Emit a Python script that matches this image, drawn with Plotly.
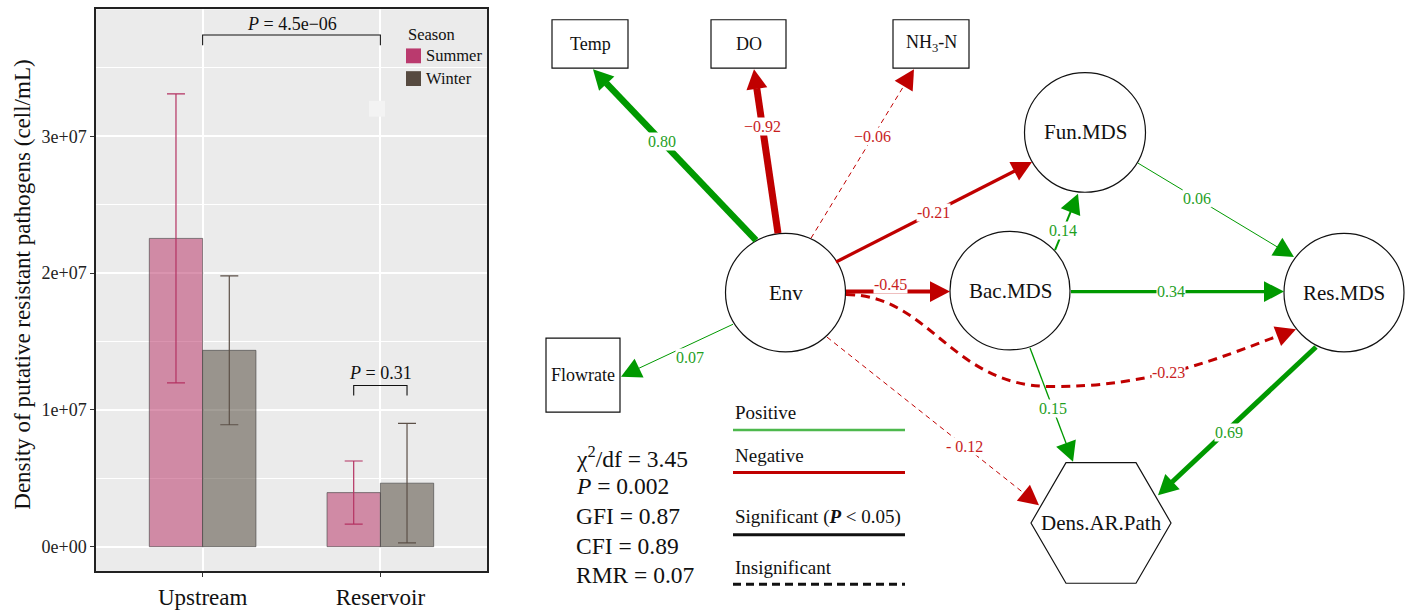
import math
import plotly.graph_objects as go

W, H = 1416, 610
SERIF = "Liberation Serif, Times New Roman, serif"

# ---------------- bar chart values ----------------
sites = ["Upstream", "Reservoir"]
summer_mean = [2.253e7, 0.395e7]
summer_sd = [1.056e7, 0.231e7]
winter_mean = [1.435e7, 0.464e7]
winter_sd = [0.544e7, 0.437e7]
p_values = ["4.5e\u221206", "0.31"]
y_tick_vals = [0, 1e7, 2e7, 3e7]
y_tick_text = ["0e+00", "1e+07", "2e+07", "3e+07"]

# ---------------- path model values ----------------
edge_from = ["Env", "Env", "Env", "Env", "Env", "Env", "Env", "Env",
             "Bac.MDS", "Bac.MDS", "Bac.MDS", "Fun.MDS", "Res.MDS"]
edge_to = ["Temp", "DO", "NH3-N", "Flowrate", "Fun.MDS", "Bac.MDS", "Res.MDS",
           "Dens.AR.Path", "Fun.MDS", "Res.MDS", "Dens.AR.Path", "Res.MDS",
           "Dens.AR.Path"]
edge_coef = [0.80, -0.92, -0.06, 0.07, -0.21, -0.45, -0.23, -0.12,
             0.14, 0.34, 0.15, 0.06, 0.69]
edge_significant = [True, True, False, True, True, True, False, False,
                    True, True, True, True, True]
fit_names = ["\u03c7<sup>2</sup>/df", "<i>P</i>", "GFI", "CFI", "RMR"]
fit_values = ["3.45", "0.002", "0.87", "0.89", "0.07"]

# ---------------- diagram layout (pixel space of the right panel) ----------------
nodes = {
    "Env": dict(kind="circle", c=(785.5, 296), r=60, label="Env"),
    "Bac.MDS": dict(kind="circle", c=(1010, 294), r=60, label="Bac.MDS"),
    "Fun.MDS": dict(kind="circle", c=(1085, 134), r=60.5, label="Fun.MDS"),
    "Res.MDS": dict(kind="circle", c=(1344, 296), r=60, label="Res.MDS"),
    "Temp": dict(kind="box", c=(590, 44.5), w=76, h=49, label="Temp"),
    "DO": dict(kind="box", c=(748.5, 44.5), w=75, h=49, label="DO"),
    "NH3-N": dict(kind="box", c=(931, 44.5), w=76, h=49, label="NH<sub>3</sub>-N"),
    "Flowrate": dict(kind="box", c=(583, 379.5), w=74, h=75, label="Flowrate"),
    "Dens.AR.Path": dict(kind="hex", c=(1101, 529), rx=70, ry=61, label="Dens.AR.Path"),
}

# per-edge ports (offsets from node centres), pen width, label placement
edge_style = [
    dict(s=(-29.5, -53), e=(3, 25.5), w=6.5, t=0.577, minus=""),
    dict(s=(-7.5, -60), e=(5.5, 25.5), w=7, t=0.65, minus="\u2212"),
    dict(s=(25.5, -55), e=(-17, 25.5), w=1, t=0.60, minus="\u2212"),
    dict(s=(-52.5, 32), e=(38, 1.5), w=1, t=0.38, shift=(0, 14), minus=""),
    dict(s=(50.5, -31), e=(-53, 30), w=3.2, t=0.495, minus="-"),
    dict(s=(60.5, -1), e=(-60, 1), w=4, t=0.43, shift=(0, -7), minus="-"),
    dict(s=(60.5, 2), e=(-48, 37), w=3, minus="-",
         via=[(930, 298), (950, 390), (1050, 391), (1150, 392), (1220, 362)]),
    dict(s=(41.5, 45), e=(-62, -18), w=1, t=0.65, minus="- "),
    dict(s=(45, -41), e=(-7, 62), w=2, t=0.35, minus=""),
    dict(s=(61, 1), e=(-60, -1), w=3.2, t=0.47, minus=""),
    dict(s=(20, 58), e=(-28, -62), w=1.3, t=0.53, minus=""),
    dict(s=(53, 31), e=(-50, -36), w=1, t=0.38, minus=""),
    dict(s=(-28, 55), e=(57, -28), w=5, t=0.55, shift=(0, 4), minus=""),
]

POS_LINE, NEG_LINE = "#009900", "#C00000"
POS_TEXT, NEG_TEXT = "#1FA01F", "#C81E1E"

fig = go.Figure()

# ---------------- left panel: bars with error bars ----------------
x_pos = [1, 2]
fig.add_trace(go.Bar(
    x=x_pos, y=summer_mean, width=0.3, offset=-0.3,
    marker=dict(color="rgba(181,41,95,0.5)", line=dict(color="rgba(70,70,70,0.8)", width=0.8)),
    xaxis="x", yaxis="y", showlegend=False, hoverinfo="skip"))
fig.add_trace(go.Bar(
    x=x_pos, y=winter_mean, width=0.3, offset=0.0,
    marker=dict(color="rgba(71,61,47,0.5)", line=dict(color="rgba(70,70,70,0.8)", width=0.8)),
    xaxis="x", yaxis="y", showlegend=False, hoverinfo="skip"))
fig.add_trace(go.Scatter(
    x=[p - 0.15 for p in x_pos], y=summer_mean, mode="markers",
    marker=dict(size=1, color="rgba(0,0,0,0)"),
    error_y=dict(type="data", array=summer_sd, color="#B43262", thickness=1.2, width=9),
    xaxis="x", yaxis="y", showlegend=False, hoverinfo="skip"))
fig.add_trace(go.Scatter(
    x=[p + 0.15 for p in x_pos], y=winter_mean, mode="markers",
    marker=dict(size=1, color="rgba(0,0,0,0)"),
    error_y=dict(type="data", array=winter_sd, color="#5C5048", thickness=1.2, width=9),
    xaxis="x", yaxis="y", showlegend=False, hoverinfo="skip"))

shapes = []
annotations = []

# panel background
shapes.append(dict(type="rect", xref="x domain", yref="y domain", x0=0, x1=1, y0=0, y1=1,
                   fillcolor="#EBEBEB", line=dict(width=0), layer="below"))

# significance brackets
brackets = [
    dict(x0=1.0, x1=2.0, y=3.74e7, drop=0.075e7, ty=3.822e7, p=p_values[0]),
    dict(x0=1.85, x1=2.15, y=1.178e7, drop=0.073e7, ty=1.267e7, p=p_values[1]),
]
for b in brackets:
    shapes.append(dict(type="path", xref="x", yref="y",
                       path=f"M {b['x0']},{b['y'] - b['drop']} L {b['x0']},{b['y']} "
                            f"L {b['x1']},{b['y']} L {b['x1']},{b['y'] - b['drop']}",
                       line=dict(color="#111", width=1.1)))
    annotations.append(dict(xref="x", yref="y", x=(b["x0"] + b["x1"]) / 2, y=b["ty"],
                            xanchor="center", yanchor="middle",
                            text=f"<i>P</i> = {b['p']}", showarrow=False,
                            font=dict(family=SERIF, size=18, color="#111")))


def px(x):
    return x / W


def py(y):
    return 1 - y / H


# legend of the bar panel
annotations.append(dict(xref="paper", yref="paper", x=px(406), y=py(35),
                        xanchor="left", yanchor="middle",
                        text="Season", showarrow=False,
                        font=dict(family=SERIF, size=16.5, color="#111")))
for name, col, y0 in [("Summer", "#BA3A6E", 49), ("Winter", "#564A40", 72)]:
    shapes.append(dict(type="rect", xref="paper", yref="paper", x0=px(406), x1=px(421),
                       y0=py(y0 + 15), y1=py(y0), fillcolor=col, line=dict(width=0)))
    annotations.append(dict(xref="paper", yref="paper", x=px(424), y=py(y0 + 7.5),
                            xanchor="left", yanchor="middle",
                            text=name, showarrow=False,
                            font=dict(family=SERIF, size=16.5, color="#111")))
# faint key patch inside the panel
shapes.append(dict(type="rect", xref="paper", yref="paper", x0=px(369), x1=px(385),
                   y0=py(118), y1=py(102), fillcolor="#F3F3F3", line=dict(width=0)))

# y-axis title
annotations.append(dict(xref="paper", yref="paper", x=px(23), y=py(288),
                        xanchor="center", yanchor="middle",
                        text="Density of putative resistant pathogens (cell/mL)",
                        textangle=-90, showarrow=False,
                        font=dict(family=SERIF, size=23, color="#111")))

# ---------------- right panel: path diagram ----------------
R = dict(xref="x2", yref="y2")

for key, n in nodes.items():
    cx, cy = n["c"]
    if n["kind"] == "circle":
        shapes.append(dict(type="circle", **R, x0=cx - n["r"], x1=cx + n["r"],
                           y0=cy - n["r"], y1=cy + n["r"],
                           line=dict(color="#111", width=1.2), fillcolor="white"))
        fs = 21
    elif n["kind"] == "box":
        shapes.append(dict(type="rect", **R, x0=cx - n["w"] / 2, x1=cx + n["w"] / 2,
                           y0=cy - n["h"] / 2, y1=cy + n["h"] / 2,
                           line=dict(color="#111", width=1.2), fillcolor="white"))
        fs = 18
    else:
        rx, ry = n["rx"], n["ry"]
        pts = [(cx - rx, cy), (cx - rx / 2, cy - ry), (cx + rx / 2, cy - ry),
               (cx + rx, cy), (cx + rx / 2, cy + ry), (cx - rx / 2, cy + ry)]
        path = "M " + " L ".join(f"{x},{y}" for x, y in pts) + " Z"
        shapes.append(dict(type="path", **R, path=path,
                           line=dict(color="#111", width=1.2), fillcolor="white"))
        fs = 21
    annotations.append(dict(**R, x=cx, y=cy, text=n["label"], showarrow=False,
                            font=dict(family=SERIF, size=fs, color="#111")))

HEAD_L, HEAD_HW = 20.0, 10.5


def arrow_head(tip, u, color):
    bx, by = tip[0] - HEAD_L * u[0], tip[1] - HEAD_L * u[1]
    nx, ny = -u[1], u[0]
    p1 = (bx + HEAD_HW * nx, by + HEAD_HW * ny)
    p2 = (bx - HEAD_HW * nx, by - HEAD_HW * ny)
    shapes.append(dict(type="path", **R,
                       path=f"M {tip[0]},{tip[1]} L {p1[0]},{p1[1]} L {p2[0]},{p2[1]} Z",
                       fillcolor=color, line=dict(width=0)))
    return bx, by


for src, dst, coef, sig, st in zip(edge_from, edge_to, edge_coef, edge_significant, edge_style):
    sc, dc = nodes[src]["c"], nodes[dst]["c"]
    S = (sc[0] + st["s"][0], sc[1] + st["s"][1])
    T = (dc[0] + st["e"][0], dc[1] + st["e"][1])
    lcol = POS_LINE if coef > 0 else NEG_LINE
    tcol = POS_TEXT if coef > 0 else NEG_TEXT
    wd = st["w"]
    if sig:
        dash = "solid"
    else:
        dash = "5px,4px" if wd < 2 else "9px,6px"
    label = (st["minus"] if coef < 0 else "") + f"{abs(coef):.2f}"

    if "via" in st:
        v = st["via"]
        last = v[-1]
        dx, dy = T[0] - last[0], T[1] - last[1]
        d = math.hypot(dx, dy)
        u = (dx / d, dy / d)
        bx, by = arrow_head(T, u, lcol)
        path = (f"M {S[0]},{S[1]} C {v[0][0]},{v[0][1]} {v[1][0]},{v[1][1]} {v[2][0]},{v[2][1]} "
                f"C {v[3][0]},{v[3][1]} {v[4][0]},{v[4][1]} {bx},{by}")
        shapes.append(dict(type="path", **R, path=path, line=dict(color=lcol, width=wd, dash=dash)))
        # label sits on the second bezier segment
        t = 0.45
        P = [v[2], v[3], v[4], (bx, by)]
        cf = [(1 - t) ** 3, 3 * (1 - t) ** 2 * t, 3 * (1 - t) * t ** 2, t ** 3]
        lx = sum(c * p[0] for c, p in zip(cf, P))
        ly = sum(c * p[1] for c, p in zip(cf, P))
    else:
        dx, dy = T[0] - S[0], T[1] - S[1]
        d = math.hypot(dx, dy)
        u = (dx / d, dy / d)
        bx, by = arrow_head(T, u, lcol)
        shapes.append(dict(type="line", **R, x0=S[0], y0=S[1], x1=bx + 0.5 * u[0], y1=by + 0.5 * u[1],
                           line=dict(color=lcol, width=wd, dash=dash)))
        sh = st.get("shift", (0, 0))
        lx = S[0] + st["t"] * dx + sh[0]
        ly = S[1] + st["t"] * dy + sh[1]
    annotations.append(dict(**R, x=lx, y=ly, text=label, showarrow=False,
                            bgcolor="white", borderpad=0,
                            font=dict(family=SERIF, size=16, color=tcol)))

# model fit statistics
for i, (nm, val) in enumerate(zip(fit_names, fit_values)):
    annotations.append(dict(**R, x=574, y=462 + 30 * i, xanchor="left", yanchor="middle",
                            text=f"{nm} = {val}", showarrow=False,
                            font=dict(family=SERIF, size=23.5, color="#111")))

# line-style key
key_items = [
    ("Positive", 417, 435, "#4DB84D", 2.5, "solid"),
    ("Negative", 461, 478, "#C00000", 3, "solid"),
    ("Significant (<b><i>P</i></b> &lt; 0.05)", 523, 541, "#111111", 3, "solid"),
    ("Insignificant", 574, 591, "#111111", 3, "8px,5px"),
]
for text, ty, ly, col, lw, dsh in key_items:
    annotations.append(dict(**R, x=733, y=ty, xanchor="left", yanchor="middle", text=text,
                            showarrow=False, font=dict(family=SERIF, size=19, color="#111")))
    shapes.append(dict(type="line", **R, x0=733, x1=905, y0=ly, y1=ly,
                       line=dict(color=col, width=lw, dash=dsh)))

fig.update_layout(
    width=W, height=H,
    margin=dict(l=0, r=0, t=0, b=0),
    paper_bgcolor="white", plot_bgcolor="rgba(0,0,0,0)",
    barmode="overlay", showlegend=False,
    xaxis=dict(domain=[96 / W, 487 / W], range=[0.4, 2.6], tickvals=x_pos, ticktext=sites,
               ticks="outside", ticklen=4, tickwidth=1.2, tickcolor="#333",
               showgrid=True, gridcolor="white", gridwidth=2, zeroline=False,
               showline=True, linecolor="#222", linewidth=1.5, mirror=True,
               tickfont=dict(family=SERIF, size=23, color="#111")),
    yaxis=dict(domain=[1 - 578 / H, 1 - 9.5 / H], range=[-0.1806e7, 3.927e7],
               tickvals=y_tick_vals, ticktext=y_tick_text,
               ticks="outside", ticklen=4, tickwidth=1.2, tickcolor="#333",
               showgrid=True, gridcolor="white", gridwidth=2, zeroline=False,
               minor=dict(tickvals=[5e6, 1.5e7, 2.5e7, 3.5e7], showgrid=True,
                          gridcolor="white", gridwidth=1, ticks=""),
               showline=True, linecolor="#222", linewidth=1.5, mirror=True,
               tickfont=dict(family=SERIF, size=18, color="#222")),
    xaxis2=dict(domain=[524 / W, 1], range=[524, W], visible=False, anchor="y2"),
    yaxis2=dict(domain=[0, 1], range=[H, 0], visible=False, anchor="x2"),
    shapes=shapes, annotations=annotations,
)

fig.write_html("out.html")
